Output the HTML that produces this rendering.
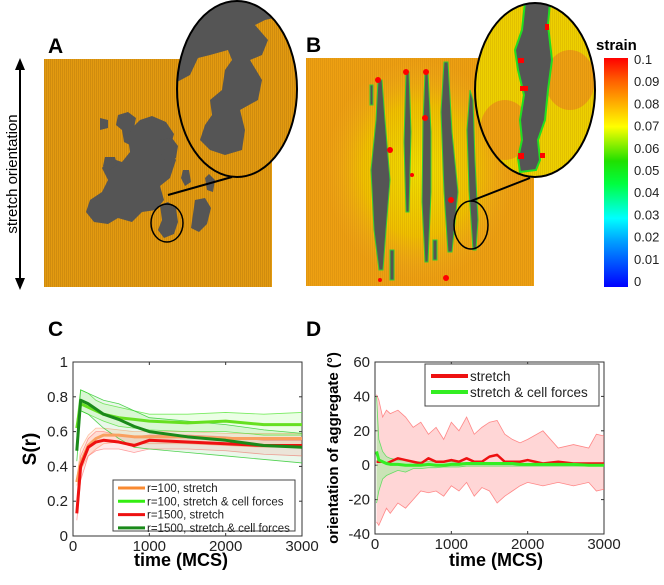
<!DOCTYPE html>
<html><head><meta charset="utf-8"><style>
body{margin:0;background:#fff;width:664px;height:580px;overflow:hidden;font-family:"Liberation Sans",sans-serif}
svg text{font-family:"Liberation Sans",sans-serif}
</style></head><body>
<svg id="fig" width="664" height="580" viewBox="0 0 664 580" xmlns="http://www.w3.org/2000/svg">
<defs>
<pattern id="stripes" width="2" height="10" patternUnits="userSpaceOnUse"><rect width="2" height="10" fill="#e39a10"/><rect width="0.7" height="10" fill="#c9850c"/></pattern>
<pattern id="stripesB" width="2" height="10" patternUnits="userSpaceOnUse"><rect width="2" height="10" fill="none"/><rect width="0.7" height="10" fill="rgba(150,90,0,0.18)"/></pattern>
<linearGradient id="cbar" x1="0" y1="1" x2="0" y2="0">
<stop offset="0" stop-color="#0000ff"/><stop offset="0.2" stop-color="#00a0ff"/><stop offset="0.3" stop-color="#00ffff"/><stop offset="0.45" stop-color="#00ff40"/><stop offset="0.55" stop-color="#20e000"/><stop offset="0.7" stop-color="#ffff00"/><stop offset="0.8" stop-color="#ffb000"/><stop offset="0.9" stop-color="#ff6000"/><stop offset="1" stop-color="#ff0000"/></linearGradient>
<radialGradient id="bglow" cx="0.5" cy="0.5" r="0.5"><stop offset="0" stop-color="#f0e000"/><stop offset="0.6" stop-color="#f0c000"/><stop offset="1" stop-color="#f0a820" stop-opacity="0"/></radialGradient>
<clipPath id="clipA"><ellipse cx="237" cy="89" rx="60" ry="88"/></clipPath>
<clipPath id="clipB"><ellipse cx="535" cy="90" rx="60" ry="87"/></clipPath>
<clipPath id="clipBimg"><rect x="306" y="58" width="228" height="228"/></clipPath>
</defs>

<!-- Panel A -->
<text x="48" y="53" font-size="21" font-weight="bold">A</text>
<g>
<line x1="20" y1="66" x2="20" y2="282" stroke="#000" stroke-width="2"/>
<polygon points="20,58 15,70 25,70" fill="#000"/><polygon points="20,290 15,278 25,278" fill="#000"/>
</g>
<text transform="translate(17,174) rotate(-90)" text-anchor="middle" font-size="15">stretch orientation</text>
<g>
<rect x="44" y="59" width="228" height="228" fill="url(#stripes)"/>
<g fill="#555">
<path d="M118,115 l10,-3 8,6 -2,10 4,8 -6,10 -8,-4 -2,-12 -6,-5z"/>
<path d="M140,120 l12,-4 14,6 8,12 -4,14 6,12 -6,18 -10,8 4,14 -8,10 -14,2 -10,10 -14,-4 -10,6 -14,-2 -8,-10 4,-12 12,-8 6,-12 -6,-12 8,-10 12,4 8,-10 -2,-14 4,-10z"/>
<path d="M100,118 l8,2 0,8 -8,2z"/>
<path d="M105,157 l10,0 2,8 -8,5 -6,-4z"/>
<path d="M160,140 l12,-2 6,8 -2,12 -10,4 -6,-10z"/>
<path d="M160,205 l8,-3 8,6 2,14 -4,12 -10,4 -6,-8 4,-10z"/>
<path d="M195,200 l10,-2 6,10 -4,16 -8,8 -8,-4 2,-14z"/>
<path d="M183,170 l6,0 2,12 -6,4 -4,-8z"/>
<path d="M205,178 l4,-4 6,6 -2,12 -6,-2z"/>
</g>
<ellipse cx="167" cy="223" rx="16" ry="19" fill="none" stroke="#000" stroke-width="1.5"/>
<line x1="168" y1="195" x2="232" y2="177" stroke="#000" stroke-width="2"/>
<g clip-path="url(#clipA)">
<rect x="177" y="1" width="120" height="176" fill="url(#stripes)"/>
<path fill="#555" d="M177,1 L300,1 L300,12 L265,20 L255,25 L268,40 L262,55 L250,60 L262,80 L258,100 L240,110 L245,130 L242,150 L225,155 L210,150 L200,140 L205,125 L212,115 L210,100 L222,90 L225,70 L232,60 L228,50 L210,55 L198,58 L190,75 L177,82z"/>
</g>
<ellipse cx="237" cy="89" rx="60" ry="88" fill="none" stroke="#000" stroke-width="2"/>
</g>

<!-- Panel B -->
<text x="306" y="52" font-size="21" font-weight="bold">B</text>
<g>
<g clip-path="url(#clipBimg)">
<rect x="306" y="58" width="228" height="228" fill="#eea012"/>
<ellipse cx="420" cy="170" rx="95" ry="110" fill="url(#bglow)"/>
<rect x="306" y="58" width="228" height="228" fill="url(#stripesB)"/>
<g fill="#555" stroke="#3c3" stroke-width="1">
<path d="M378,80 l4,0 3,40 5,60 -4,50 -3,40 -4,0 -5,-40 -3,-60 5,-50z"/>
<path d="M370,85 l3,0 0,20 -3,0z"/>
<path d="M406,72 l3,0 2,60 -2,80 -3,0 -2,-70z"/>
<path d="M425,72 l3,0 3,60 0,60 -3,70 -3,0 -3,-60 1,-80z"/>
<path d="M444,62 l4,0 4,70 6,60 -6,60 -4,0 -4,-60 -3,-80z"/>
<path d="M470,90 l3,10 2,60 3,60 -2,30 -3,0 -4,-60 -2,-60z"/>
<path d="M390,250 l4,0 0,30 -4,0z"/>
<path d="M433,240 l4,0 0,20 -4,0z"/>
</g>
<g fill="#f00">
<circle cx="378" cy="80" r="3"/><circle cx="406" cy="72" r="3"/><circle cx="426" cy="72" r="3"/><circle cx="380" cy="280" r="2"/><circle cx="446" cy="278" r="3"/><circle cx="425" cy="118" r="3"/><circle cx="390" cy="150" r="3"/><circle cx="412" cy="175" r="2"/><circle cx="451" cy="200" r="3"/>
</g>
</g>
<ellipse cx="471" cy="225" rx="17" ry="24" fill="none" stroke="#000" stroke-width="1.5"/>
<line x1="471" y1="201" x2="530" y2="178" stroke="#000" stroke-width="2"/>
<g clip-path="url(#clipB)">
<rect x="474" y="2" width="122" height="176" fill="#eed000"/>
<ellipse cx="505" cy="130" rx="25" ry="30" fill="#eea012"/>
<ellipse cx="570" cy="80" rx="25" ry="30" fill="#eea012"/>
<rect x="474" y="2" width="122" height="176" fill="url(#stripesB)"/>
<path fill="#555" stroke="#2d2" stroke-width="2" d="M525,2 L550,2 L548,25 L552,60 L548,90 L545,120 L538,140 L540,160 L536,170 L520,172 L518,158 L522,140 L520,120 L524,95 L518,70 L515,50 L522,30z"/>
<g fill="#f00"><rect x="518" y="58" width="6" height="5"/><rect x="520" y="86" width="8" height="5"/><rect x="545" y="24" width="4" height="6"/><rect x="518" y="153" width="6" height="6"/><rect x="540" y="153" width="5" height="5"/></g>
</g>
<ellipse cx="535" cy="90" rx="60" ry="87" fill="none" stroke="#000" stroke-width="2"/>
</g>

<!-- Colorbar -->
<text x="596" y="50" font-size="15" font-weight="bold">strain</text>
<rect x="604" y="58" width="24" height="229" fill="url(#cbar)"/>
<g id="cbticks" font-size="13" fill="#222"></g>

<!-- Panel C -->
<text x="48" y="336" font-size="21" font-weight="bold">C</text>
<g id="chartC"></g>
<!-- Panel D -->
<text x="306" y="336" font-size="21" font-weight="bold">D</text>
<g id="chartD"></g>
</svg>
<script>
// ---- Colorbar data ----
const cbLabels = ["0","0.01","0.02","0.03","0.04","0.05","0.06","0.07","0.08","0.09","0.1"];

// ---- Chart C data ----
const cTimes = [50,100,200,300,400,600,800,1000,1500,2000,2500,3000];
const cOrange = [0.31,0.42,0.52,0.56,0.58,0.58,0.57,0.57,0.57,0.56,0.56,0.56];
const cOrangeHi = [0.33,0.50,0.58,0.62,0.62,0.61,0.60,0.60,0.60,0.59,0.59,0.59];
const cOrangeLo = [0.29,0.38,0.46,0.50,0.53,0.54,0.53,0.53,0.53,0.52,0.51,0.51];
const cLight = [0.62,0.76,0.74,0.72,0.70,0.68,0.67,0.66,0.65,0.66,0.64,0.64];
const cLightHi = [0.66,0.84,0.82,0.78,0.76,0.74,0.72,0.70,0.70,0.71,0.70,0.71];
const cLightLo = [0.58,0.72,0.70,0.68,0.66,0.63,0.62,0.61,0.60,0.60,0.58,0.58];
const cRed = [0.13,0.40,0.51,0.54,0.55,0.54,0.52,0.55,0.54,0.53,0.52,0.52];
const cRedHi = [0.15,0.46,0.56,0.60,0.60,0.58,0.57,0.58,0.58,0.57,0.55,0.55];
const cRedLo = [0.09,0.32,0.46,0.49,0.50,0.50,0.48,0.50,0.50,0.49,0.47,0.46];
const cDark = [0.49,0.78,0.76,0.73,0.70,0.67,0.63,0.60,0.57,0.55,0.52,0.51];
const cDarkHi = [0.55,0.84,0.82,0.80,0.78,0.76,0.72,0.68,0.66,0.64,0.61,0.59];
const cDarkLo = [0.43,0.72,0.70,0.66,0.62,0.56,0.51,0.50,0.48,0.46,0.44,0.42];
const cYTicks = [0,0.2,0.4,0.6,0.8,1];
const cYTickLabels = ["0","0.2","0.4","0.6","0.8","1"];
const cXTicks = [0,1000,2000,3000];
const cLegend = ["r=100, stretch","r=100, stretch & cell forces","r=1500, stretch","r=1500, stretch & cell forces"];

// ---- Chart D data ----
const dTimes = [20,50,100,150,200,300,400,500,600,700,800,900,1000,1100,1200,1300,1400,1500,1600,1700,1800,1900,2000,2200,2400,2600,2800,2900,3000];
const dRedHi = [41,38,28,32,30,32,28,22,25,18,22,15,25,20,28,18,22,25,26,18,15,13,15,20,10,12,10,18,17];
const dRedLo = [-33,-35,-30,-25,-28,-22,-25,-20,-15,-16,-15,-18,-12,-15,-10,-18,-13,-15,-22,-18,-15,-12,-10,-12,-10,-12,-10,-15,-14];
const dRed = [2,2,2,1,2,4,3,2,1,4,2,2,3,2,4,2,2,5,6,2,2,2,3,1,2,1,1,1,1];
const dGreen = [8,3,2,1,0.5,0.5,0,0,0,0.5,0,0,0.5,0.5,1,1,1,1,1,1,1,0.5,0.5,0.5,0.5,0.5,0,0,0];
const dGreenHi = [40,15,8,5,4,3,3,2,2,2,2,2,2,1.5,1.5,1.5,1.5,1.5,1.5,1.5,1.5,1,1,1,1,1,1,1,1];
const dGreenLo = [-22,-15,-8,-6,-5,-3,-4,-2,-2,-1.5,-1.5,-1,-1,-1,-0.5,-0.5,-0.5,-0.5,-0.5,-0.5,-0.5,-0.5,-0.5,-0.5,-0.5,-0.5,-0.5,-0.5,-0.5];
const dYTicks = [-40,-20,0,20,40,60];
const dXTicks = [0,1000,2000,3000];
const dLegend = ["stretch","stretch & cell forces"];

const NS="http://www.w3.org/2000/svg";
function mk(tag,attrs,parent,txt){const e=document.createElementNS(NS,tag);for(const k in attrs)e.setAttribute(k,attrs[k]);if(txt!==undefined)e.textContent=txt;parent.appendChild(e);return e;}

const cbg=document.getElementById('cbticks');
cbLabels.forEach((l,i)=>{const y=282-i*(222/10)+4;
const t=mk('text',{x:634,y:y},cbg,l);

});

function axes(g,L,R,T,B,xmin,xmax,ymin,ymax,yt,ytl,xt,name){
  const sx=v=>L+(v-xmin)/(xmax-xmin)*(R-L);
  const sy=v=>B-(v-ymin)/(ymax-ymin)*(B-T);
  const box=mk('rect',{x:L,y:T,width:R-L,height:B-T,fill:'none',stroke:'#333','stroke-width':1},g);
  
  
  yt.forEach((v,i)=>{mk('line',{x1:L,x2:L+3,y1:sy(v),y2:sy(v),stroke:'#333'},g);mk('line',{x1:R,x2:R-3,y1:sy(v),y2:sy(v),stroke:'#333'},g);
    const t=mk('text',{x:L-5,y:sy(v)+5,'text-anchor':'end','font-size':15,fill:'#222'},g,ytl[i]);
    
    });
  xt.forEach(v=>{mk('line',{x1:sx(v),x2:sx(v),y1:B,y2:B-3,stroke:'#333'},g);mk('line',{x1:sx(v),x2:sx(v),y1:T,y2:T+3,stroke:'#333'},g);
    const t=mk('text',{x:sx(v),y:B+15,'text-anchor':'middle','font-size':15,fill:'#222'},g,String(v));
    
    });
  return [sx,sy];
}
function band(g,xs,hi,lo,sx,sy,fill,stroke,nm){
  let d='M'+xs.map((x,i)=>sx(x)+','+sy(hi[i])).join(' L');
  d+=' L'+xs.map((x,i)=>sx(x)+','+sy(lo[i])).reverse().join(' L')+'Z';
  const p=mk('path',{d:d,fill:fill,stroke:'none'},g);
  
  
  [hi,lo].forEach(a=>{const l=mk('path',{d:'M'+xs.map((x,i)=>sx(x)+','+sy(a[i])).join(' L'),fill:'none',stroke:stroke,'stroke-width':0.8},g);
    
    });
}
function line(g,xs,ys,sx,sy,col,w,nm){
  const p=mk('path',{d:'M'+xs.map((x,i)=>sx(x)+','+sy(ys[i])).join(' L'),fill:'none',stroke:col,'stroke-width':w,'stroke-linejoin':'round'},g);
  
  
}

// Chart C
(function(){
  const g=document.getElementById('chartC');
  
  
  const [sx,sy]=axes(g,73,302,362,536,0,3000,0,1,cYTicks,cYTickLabels,cXTicks,'chart-c');
  band(g,cTimes,cOrangeHi,cOrangeLo,sx,sy,'rgba(255,150,80,0.15)','rgba(255,140,80,0.5)','orange-r100-stretch');
  band(g,cTimes,cRedHi,cRedLo,sx,sy,'rgba(255,80,80,0.12)','rgba(255,100,100,0.6)','red-r1500-stretch');
  band(g,cTimes,cLightHi,cLightLo,sx,sy,'rgba(120,255,80,0.15)','rgba(90,230,60,0.8)','lightgreen-r100-cell');
  band(g,cTimes,cDarkHi,cDarkLo,sx,sy,'rgba(60,180,60,0.10)','rgba(40,200,40,0.8)','darkgreen-r1500-cell');
  line(g,cTimes,cOrange,sx,sy,'#f9a060',3,'line-r100-stretch');
  line(g,cTimes,cRed,sx,sy,'#ee1111',3,'line-r1500-stretch');
  line(g,cTimes,cLight,sx,sy,'#66e020',3,'line-r100-cell-forces');
  line(g,cTimes,cDark,sx,sy,'#1a8a1a',3,'line-r1500-cell-forces');
  const t=mk('text',{transform:'translate(36,449) rotate(-90)','text-anchor':'middle','font-size':19,'font-weight':'bold'},g,'S(r)');
  
  
  const xt=mk('text',{x:181,y:566,'text-anchor':'middle','font-size':18,'font-weight':'bold'},g,'time (MCS)');
  
  
  const lg=mk('g',{},g);
  
  
  mk('rect',{x:113,y:480,width:182,height:51,fill:'#fff',stroke:'#444'},lg);
  const cols=['#f98a30','#33ee11','#ee1111','#1a8a1a'];
  cLegend.forEach((s,i)=>{const y=488+i*13.3;
    mk('line',{x1:118,x2:145,y1:y,y2:y,stroke:cols[i],'stroke-width':3},lg);
    const e=mk('text',{x:147,y:y+4,'font-size':11.5,fill:'#222'},lg,s);
    
    });
})();

// Chart D
(function(){
  const g=document.getElementById('chartD');
  
  
  const [sx,sy]=axes(g,375,604,362,534,0,3000,-40,60,dYTicks,dYTicks.map(String),dXTicks,'chart-d');
  band(g,dTimes,dRedHi,dRedLo,sx,sy,'rgba(255,120,120,0.3)','rgba(255,110,110,0.8)','red-stretch');
  band(g,dTimes,dGreenHi,dGreenLo,sx,sy,'rgba(150,240,150,0.5)','rgba(90,220,90,0.9)','green-cell');
  line(g,dTimes,dRed,sx,sy,'#ee1111',2.5,'line-stretch');
  line(g,dTimes,dGreen,sx,sy,'#33ee22',3,'line-stretch-cell-forces');
  const t=mk('text',{transform:'translate(338,448) rotate(-90)','text-anchor':'middle','font-size':15,'font-weight':'bold'},g,'orientation of aggregate (°)');
  
  
  const xt=mk('text',{x:496,y:566,'text-anchor':'middle','font-size':18,'font-weight':'bold'},g,'time (MCS)');
  
  
  const lg=mk('g',{},g);
  
  
  mk('rect',{x:425,y:364,width:174,height:42,fill:'#fff',stroke:'#444'},lg);
  const cols=['#ee1111','#33ee22'];
  dLegend.forEach((s,i)=>{const y=376+i*16;
    mk('line',{x1:431,x2:468,y1:y,y2:y,stroke:cols[i],'stroke-width':4},lg);
    const e=mk('text',{x:470,y:y+5,'font-size':13.5,fill:'#222'},lg,s);
    
    });
})();
</script>
</body></html>
